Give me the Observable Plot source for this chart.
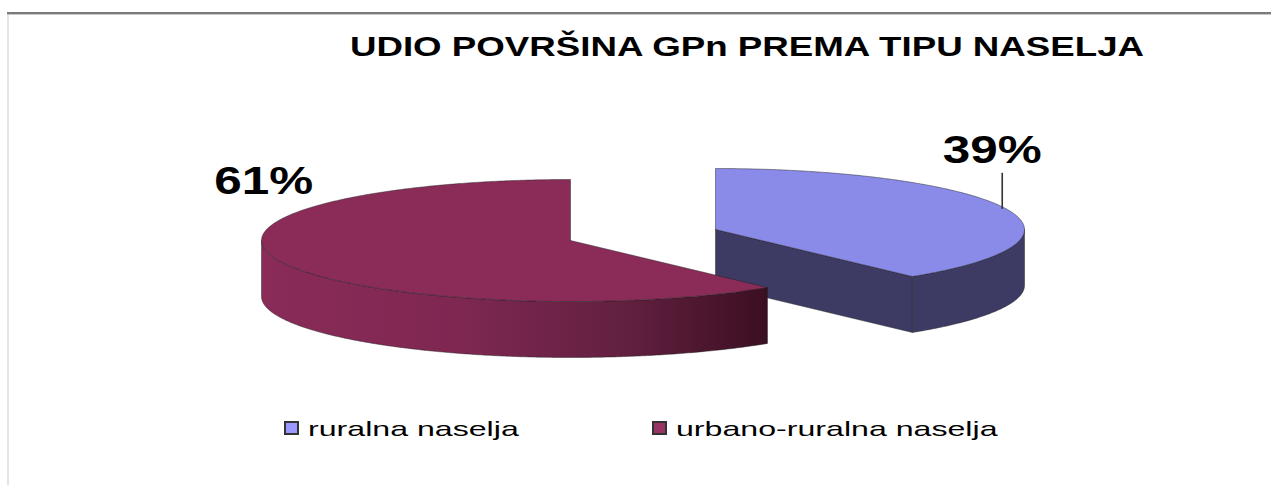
<!DOCTYPE html>
<html>
<head>
<meta charset="utf-8">
<script src="https://cdn.jsdelivr.net/npm/d3@7"></script>
<script src="https://cdn.jsdelivr.net/npm/@observablehq/plot@0.6"></script>
<style>
  html, body { margin: 0; padding: 0; background: #fff; }
  body { width: 1271px; height: 485px; overflow: hidden; position: relative; font-family: "Liberation Sans", Arial, sans-serif; }
  #frameTop { position: absolute; left: 7px; right: 0; top: 12px; height: 2px; background: #7b7b7b; border-bottom: 1px solid #c8c8c8; }
  #frameLeft { position: absolute; left: 7px; top: 15px; bottom: 0; width: 2px; background: #e3e3e3; }
  #title { position: absolute; left: 747px; top: 33px; font-weight: bold; font-size: 28px; line-height: 28px; white-space: nowrap; color: #000; transform: translateX(-50%) scaleX(1.31); }
  #chart { position: absolute; left: 0; top: 100px; }
  .sw { position: absolute; box-sizing: border-box; border: 2px solid #333; }
  .lt { position: absolute; font-size: 21px; line-height: 21px; white-space: nowrap; color: #000; transform-origin: 0 50%; transform: scaleX(1.53); }
</style>
</head>
<body>
<div id="frameTop"></div>
<div id="frameLeft"></div>
<div id="title">UDIO POVRŠINA GPn PREMA TIPU NASELJA</div>
<div id="chart"></div>
<div id="legend"></div>
<script>
// ---- data ----
const categories = ["ruralna naselja", "urbano-ruralna naselja"];
const shares = [39, 61];
const percentLabels = ["39%", "61%"];
const topColors = ["#8a8ae8", "#8b2c58"];
const sideColors = ["#3d3b63", "url(#redWall)"];
const legendColors = ["#9999ff", "#993366"];

// ---- style / layout constants ----
const W = 1271, H = 290;
const PIE = { cx: 570, cy: 140, rx: 309, ry: 61, depth: 56 };
const explode = [[145, -11], [0, 0]];
const labelOffset = [[-14, -46], [-16, -67]];
const hasLeader = [true, false];
const leaderDx = -4, leaderLen = 36;
const legendX = [284, 652], legendTextGap = 24;

const rows = categories.map((c, i) => ({ category: c, value: shares[i], i }));
const arcs = d3.pie().sort(null).value(d => d.value).startAngle(0).endAngle(2 * Math.PI)(rows);

function pt(c, t, dz = 0) { return { x: c[0] + PIE.rx * Math.sin(t), y: c[1] - PIE.ry * Math.cos(t) + dz }; }
function arcPts(c, a0, a1, dz = 0) {
  const n = Math.max(2, Math.ceil((a1 - a0) / 0.01));
  return d3.range(n + 1).map(k => pt(c, a0 + (a1 - a0) * k / n, dz));
}

const slices = arcs.map(a => {
  const i = a.data.i;
  const c = [PIE.cx + explode[i][0], PIE.cy + explode[i][1]];
  return { a, i, c };
}).sort((p, q) => p.c[1] - q.c[1]);

const edgeStyle = { stroke: "#1e1e1e", strokeWidth: 0.7, strokeOpacity: 0.65, curve: "linear" };
const marks = [];

// gradient defs
marks.push(() => {
  const defs = document.createElementNS("http://www.w3.org/2000/svg", "defs");
  defs.innerHTML = `<linearGradient id="redWall" x1="0" x2="1" y1="0" y2="0">
    <stop offset="0" stop-color="#8a2b58"/>
    <stop offset="0.4" stop-color="#7e2751"/>
    <stop offset="0.72" stop-color="#62203f"/>
    <stop offset="1" stop-color="#3b0f22"/>
  </linearGradient>`;
  return defs;
});

for (const s of slices) {
  const { a, i, c } = s;
  const a0 = a.startAngle, a1 = a.endAngle, D = PIE.depth;
  const cen = { x: c[0], y: c[1] };
  const cenB = { x: c[0], y: c[1] + D };
  const faceFill = sideColors[i].startsWith("url") ? "#4a1430" : sideColors[i];
  // cut faces
  const edges = [[a0, a0 - Math.PI / 2], [a1, a1 + Math.PI / 2]];
  for (const [t, phi] of edges) {
    if (-Math.cos(phi) > 1e-6) {
      const p = pt(c, t), pb = pt(c, t, D);
      marks.push(Plot.line([cen, p, pb, cenB, cen], { x: "x", y: "y", fill: faceFill, ...edgeStyle }));
    }
  }
  // outer wall (front half only)
  const s0 = Math.max(a0, Math.PI / 2), e0 = Math.min(a1, 3 * Math.PI / 2);
  if (s0 < e0) {
    const topArc = arcPts(c, s0, e0, 0), botArc = arcPts(c, s0, e0, D).reverse();
    marks.push(Plot.line([...topArc, ...botArc, topArc[0]], { x: "x", y: "y", fill: sideColors[i], ...edgeStyle }));
  }
  // top face
  marks.push(Plot.line([cen, ...arcPts(c, a0, a1), cen], { x: "x", y: "y", fill: topColors[i], ...edgeStyle }));
}

// labels
const labelRows = arcs.map(a => {
  const i = a.data.i;
  const c = [PIE.cx + explode[i][0], PIE.cy + explode[i][1]];
  const m = pt(c, (a.startAngle + a.endAngle) / 2);
  return { i, text: percentLabels[i], ax: m.x, ay: m.y, x: m.x + labelOffset[i][0], y: m.y + labelOffset[i][1] };
});
const leaderRows = labelRows.filter(d => hasLeader[d.i]).map(d => ({ x1: d.ax + leaderDx, y1: d.ay, x2: d.ax + leaderDx, y2: d.ay - leaderLen }));
marks.push(Plot.link(leaderRows, { x1: "x1", y1: "y1", x2: "x2", y2: "y2", stroke: "#333", strokeWidth: 1.6 }));
marks.push(Plot.text(labelRows, { x: "x", y: "y", text: "text", fontSize: 38, fontWeight: "bold", fontFamily: "Liberation Sans, Arial, sans-serif", textAnchor: "middle", lineAnchor: "bottom", fill: "#000" }));

const svg = Plot.plot({
  width: W, height: H, margin: 0,
  x: { domain: [0, W], range: [0, W], axis: null },
  y: { domain: [0, H], range: [0, H], axis: null },
  style: { background: "transparent", overflow: "visible" },
  marks
});
for (const t of svg.querySelectorAll("text")) {
  let tr = t.getAttribute("transform");
  if (!tr) {
    const x = +t.getAttribute("x") || 0, y = +t.getAttribute("y") || 0;
    t.removeAttribute("x"); t.removeAttribute("y");
    tr = `translate(${x},${y})`;
  }
  t.setAttribute("transform", tr + " scale(1.3,1)");
}
document.getElementById("chart").appendChild(svg);

// legend
const lg = document.getElementById("legend");
categories.forEach((c, i) => {
  const sw = document.createElement("div");
  sw.className = "sw";
  Object.assign(sw.style, { left: legendX[i] + "px", top: "421px", width: "15px", height: "14px", background: legendColors[i] });
  lg.appendChild(sw);
  const tx = document.createElement("div");
  tx.className = "lt";
  tx.textContent = c;
  Object.assign(tx.style, { left: (legendX[i] + legendTextGap) + "px", top: "418px" });
  lg.appendChild(tx);
});
</script>
</body>
</html>
